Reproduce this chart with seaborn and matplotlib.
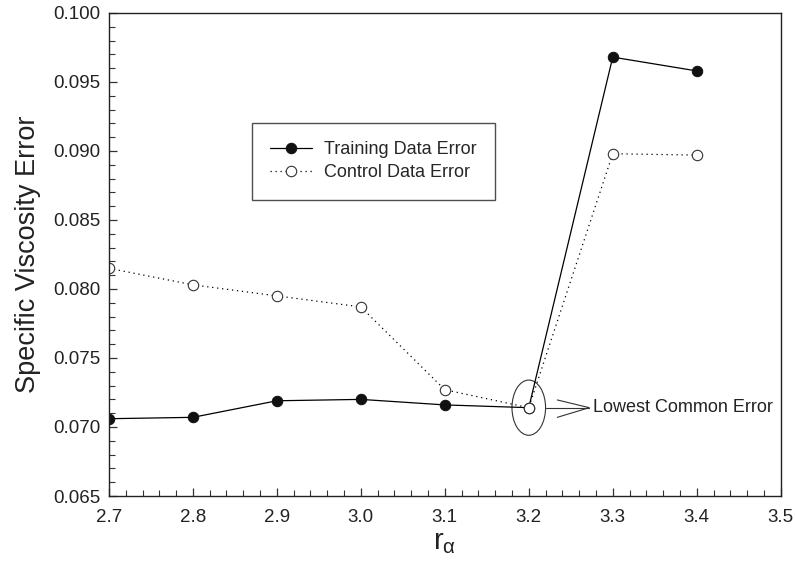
import numpy as np
import pandas as pd
import matplotlib
matplotlib.use("Agg")
import matplotlib.pyplot as plt
from matplotlib.patches import Ellipse
from matplotlib.ticker import MultipleLocator, FormatStrFormatter
import seaborn as sns

# données
r_alpha = [2.7, 2.8, 2.9, 3.0, 3.1, 3.2, 3.3, 3.4]
training_err = [0.0706, 0.0707, 0.0719, 0.0720, 0.0716, 0.0714, 0.0968, 0.0958]
control_err = [0.0815, 0.0803, 0.0795, 0.0787, 0.0727, 0.0714, 0.0898, 0.0897]

x_ticks = [2.7, 2.8, 2.9, 3.0, 3.1, 3.2, 3.3, 3.4, 3.5]
y_ticks = [0.065, 0.070, 0.075, 0.080, 0.085, 0.090, 0.095, 0.100]

sns.set_theme(style="white")
plt.rcParams["font.family"] = ["Liberation Sans", "DejaVu Sans"]
plt.rcParams["mathtext.fontset"] = "custom"
plt.rcParams["mathtext.rm"] = "Liberation Sans"
plt.rcParams["mathtext.it"] = "Liberation Sans"

fig = plt.figure(figsize=(7.95, 5.63), dpi=100)
ax = fig.add_axes([0.137, 0.119, 0.845, 0.858])

# courbe données d'entraînement
sns.lineplot(x=r_alpha, y=training_err, ax=ax, color="black", linewidth=0.9,
             marker="o", markersize=7.5, markerfacecolor="#111111",
             markeredgecolor="#111111", label="Training Data Error")
# courbe données de contrôle
sns.lineplot(x=r_alpha, y=control_err, ax=ax, color="black", linewidth=0.9,
             linestyle=(0, (1, 3)), marker="o", markersize=7.5,
             markerfacecolor="white", markeredgecolor="#333333",
             markeredgewidth=0.8, label="Control Data Error")

ax.set_xlim(2.7, 3.5)
ax.set_ylim(0.065, 0.100)
ax.set_xticks(x_ticks)
ax.set_yticks(y_ticks)
ax.xaxis.set_major_formatter(FormatStrFormatter("%.1f"))
ax.yaxis.set_major_formatter(FormatStrFormatter("%.3f"))
ax.xaxis.set_minor_locator(MultipleLocator(0.02))
ax.yaxis.set_minor_locator(MultipleLocator(0.001))
ax.tick_params(which="both", direction="in", bottom=True, left=True,
               top=False, right=False, colors="#333333", labelcolor="#222222")
ax.tick_params(which="major", length=6, width=0.9, labelsize=13.5)
ax.tick_params(axis="x", which="major", pad=9)
ax.tick_params(axis="y", which="major", pad=6)
ax.tick_params(which="minor", length=4, width=0.8)
for sp in ax.spines.values():
    sp.set_color("#222222")
    sp.set_linewidth(1.0)

ax.set_xlabel(r"r$_{\alpha}$", fontsize=21, color="#222222", labelpad=2)
ax.set_ylabel("Specific Viscosity Error", fontsize=19.5, color="#222222", labelpad=9)

# annotation du point commun le plus bas
i_low = r_alpha.index(3.2)
x_low, y_low = r_alpha[i_low], control_err[i_low]
ax.add_patch(Ellipse((x_low, y_low), 0.040, 0.0040, fill=False,
                     edgecolor="#333333", linewidth=0.8))
ax.plot([x_low + 0.021, x_low + 0.072], [y_low, y_low], color="#333333", lw=0.8)
ax.plot([x_low + 0.034, x_low + 0.072, x_low + 0.034],
        [y_low + 0.00056, y_low, y_low - 0.0007], color="#333333", lw=0.8)
ax.text(x_low + 0.076, y_low, "Lowest Common Error", fontsize=13,
        color="#222222", va="center", ha="left")

leg = ax.legend(loc="upper left", bbox_to_anchor=(0.213, 0.772), borderaxespad=0,
                fontsize=13, frameon=True, fancybox=False, handlelength=2.3,
                borderpad=1.0, labelspacing=0.35, handletextpad=0.7)
leg.get_frame().set_edgecolor("#222222")
leg.get_frame().set_linewidth(1.0)

fig.savefig("out.png", dpi=100, facecolor="white")
